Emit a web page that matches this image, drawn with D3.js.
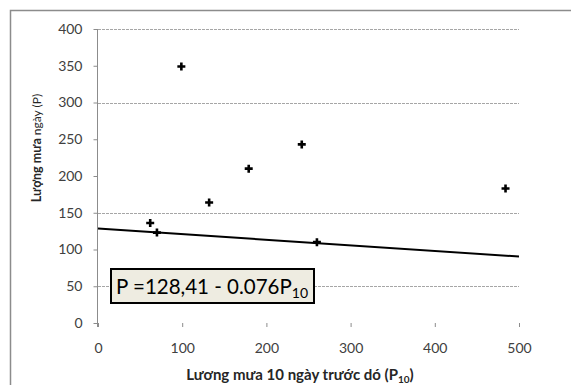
<!DOCTYPE html>
<html>
<head>
<meta charset="utf-8">
<script src="https://cdn.jsdelivr.net/npm/d3@7"></script>
<style>
  body { margin: 0; background: #fff; }
  text { font-family: Lato, "Open Sans", sans-serif; }
</style>
</head>
<body>
<div class="canvas"></div>
<script>
// rainfall of the previous 10 days (x) vs rainfall (y)
const rainPrev10 = [62, 70, 99, 132, 179, 242, 260, 484];
const rainDay = [136, 123, 349, 164, 210, 243, 110, 183];
const xTicks = [0, 100, 200, 300, 400, 500];
const yTicks = [0, 50, 100, 150, 200, 250, 300, 350, 400];
const gridValues = [50, 150, 300, 400];
// regression P = 128.41 - 0.076 * P10
const fitIntercept = 128.41;
const fitSlope = -0.076;

const dims = { width: 571, height: 385 };
const plot = { left: 98, right: 519, top: 29, bottom: 323 };

const svg = d3
  .select('.canvas')
  .append('svg')
  .attr('width', dims.width)
  .attr('height', dims.height);

// chart frame (only top and left edges are in view)
svg.append('path')
  .attr('d', `M10.5,${dims.height} V10.5 H${dims.width}`)
  .attr('fill', 'none')
  .attr('stroke', '#8c8c8c')
  .attr('stroke-width', 1.5);

const x = d3.scaleLinear().domain([0, 500]).range([plot.left, plot.right]);
const y = d3.scaleLinear().domain([0, 400]).range([plot.bottom, plot.top]);

// gridlines
svg.append('g')
  .selectAll('line')
  .data(gridValues)
  .enter()
  .append('line')
  .attr('x1', plot.left)
  .attr('x2', plot.right)
  .attr('y1', (d) => Math.round(y(d)) + 0.5)
  .attr('y2', (d) => Math.round(y(d)) + 0.5)
  .attr('stroke', '#a6a6a6')
  .attr('stroke-dasharray', '3,1');

// y axis
const yAxis = svg.append('g')
  .attr('transform', `translate(${plot.left - 0.5},0)`)
  .call(d3.axisLeft(y).tickValues(yTicks).tickSize(4).tickPadding(11));
yAxis.select('.domain').attr('stroke', '#8c8c8c').attr('d', `M0,${plot.top}V${plot.bottom + 4}`);
yAxis.selectAll('.tick line').attr('stroke', '#8c8c8c');
yAxis.selectAll('.tick text')
  .attr('font-size', 14)
  .attr('fill', '#404040')
  .attr('font-family', 'Lato, sans-serif');

// x axis (ticks only, no baseline)
const xAxis = svg.append('g')
  .attr('transform', `translate(0,${plot.bottom})`)
  .call(d3.axisBottom(x).tickValues(xTicks).tickSize(4).tickPadding(16));
xAxis.select('.domain').remove();
xAxis.selectAll('.tick line').attr('stroke', '#8c8c8c').attr('y1', 0);
xAxis.selectAll('.tick text')
  .attr('font-size', 14)
  .attr('fill', '#404040')
  .attr('font-family', 'Lato, sans-serif');

// regression line
svg.append('line')
  .attr('x1', x(0))
  .attr('y1', y(fitIntercept))
  .attr('x2', x(500))
  .attr('y2', y(fitIntercept + fitSlope * 500))
  .attr('stroke', '#000')
  .attr('stroke-width', 2);

// points as crosses
svg.append('g')
  .selectAll('path')
  .data(rainPrev10.map((d, i) => ({ px: d, p: rainDay[i] })))
  .enter()
  .append('path')
  .attr('d', (d) => {
    const cx = x(d.px), cy = y(d.p);
    return `M${cx - 4},${cy}H${cx + 4}M${cx},${cy - 4}V${cy + 4}`;
  })
  .attr('stroke', '#000')
  .attr('stroke-width', 2.6);

// equation box
const eq = svg.append('g');
eq.append('rect')
  .attr('x', 111)
  .attr('y', 269)
  .attr('width', 203)
  .attr('height', 34)
  .attr('fill', '#eeece1')
  .attr('stroke', '#000')
  .attr('stroke-width', 2);
const eqText = eq.append('text')
  .attr('x', 116)
  .attr('y', 294)
  .attr('font-size', 20.5)
  .attr('fill', '#000');
eqText.append('tspan').text('P =128,41 - 0.076P');
eqText.append('tspan').attr('font-size', 14).attr('dy', 4).text('10');

// axis titles
const xTitle = svg.append('text')
  .attr('x', 300)
  .attr('y', 380)
  .attr('text-anchor', 'middle')
  .attr('font-size', 15)
  .attr('font-weight', 'bold')
  .attr('fill', '#262626');
xTitle.append('tspan').text('Lương mưa 10 ngày trước dó (P');
xTitle.append('tspan').attr('font-size', 10).attr('dy', 3).text('10');
xTitle.append('tspan').attr('dy', -3).text(')');

const yTitle = svg.append('text')
  .attr('transform', 'translate(41,148) rotate(-90)')
  .attr('text-anchor', 'middle')
  .attr('fill', '#262626');
yTitle.append('tspan').attr('font-size', 12.5).attr('font-weight', 'bold').text('Lượng mưa ');
yTitle.append('tspan').attr('font-size', 12).text(' ngày (P)');
</script>
</body>
</html>
